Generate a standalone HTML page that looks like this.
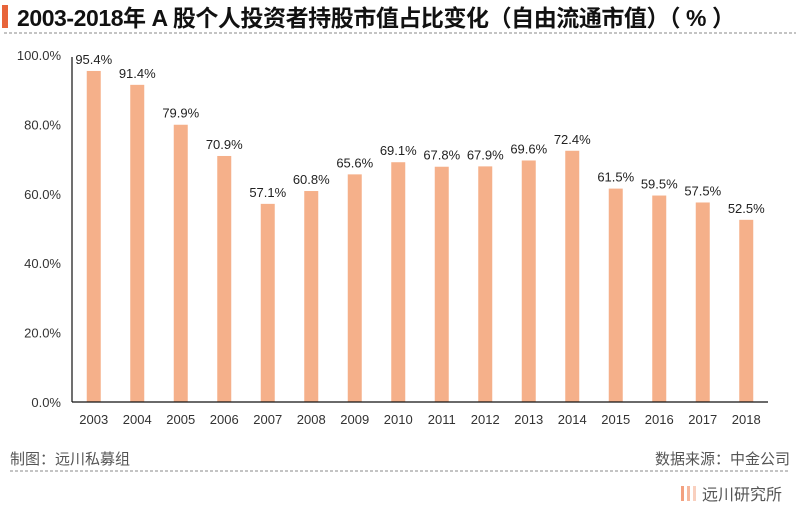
<!DOCTYPE html>
<html><head><meta charset="utf-8"><style>
body{margin:0;background:#fff;width:800px;height:507px;overflow:hidden;font-family:"Liberation Sans","Noto Sans CJK SC",sans-serif;}
</style></head><body>
<svg width="800" height="507" style="position:absolute;left:0;top:0">
<rect x="2" y="5" width="6" height="23" fill="#e8643a"/>
<text x="17" y="26" font-size="23" font-weight="bold" fill="#111" textLength="718" lengthAdjust="spacing" font-family="Liberation Sans, Noto Sans CJK SC, sans-serif">2003-2018年 A 股个人投资者持股市值占比变化（自由流通市值）（ % ）</text>
<line x1="4" y1="33" x2="796" y2="33" stroke="#888" stroke-dasharray="3,2"/>
<g id="plot"></g>
<text x="10" y="464" font-size="15" fill="#555">制图：远川私募组</text>
<text x="790" y="464" font-size="15" fill="#555" text-anchor="end">数据来源：中金公司</text>
<line x1="10" y1="471" x2="790" y2="471" stroke="#888" stroke-dasharray="3,2"/>
<g>
<rect x="681" y="486" width="3" height="15" fill="#f3a07f"/><rect x="687" y="486" width="3" height="15" fill="#f6b89e"/><rect x="693" y="486" width="3" height="15" fill="#f9d0bf"/>
<text x="702" y="500" font-size="16" fill="#555">远川研究所</text></g>
</svg>
<script>
const years=["2003","2004","2005","2006","2007","2008","2009","2010","2011","2012","2013","2014","2015","2016","2017","2018"];
const values=[95.4,91.4,79.9,70.9,57.1,60.8,65.6,69.1,67.8,67.9,69.6,72.4,61.5,59.5,57.5,52.5];
const yTicks=[0,20,40,60,80,100];
const NS="http://www.w3.org/2000/svg";
const g=document.getElementById('plot');
const x0=72,x1=768,y0=402,yTop=55;
const band=(x1-x0)/years.length;
const xc=i=>x0+band*(i+0.5);
const yv=v=>y0-(v/100)*(y0-yTop);
function mk(t,a){const e=document.createElementNS(NS,t);for(const k in a)e.setAttribute(k,a[k]);g.appendChild(e);return e;}
yTicks.forEach(t=>{const e=mk('text',{x:61,y:yv(t)+5,'font-size':13,'text-anchor':'end',fill:'#333'});e.textContent=t.toFixed(1)+'%';

});
values.forEach((v,i)=>{const r=mk('rect',{x:xc(i)-7,y:yv(v),width:14,height:y0-yv(v),fill:'#f5b08a'});


const l=mk('text',{x:xc(i),y:yv(v)-7,'font-size':13,'text-anchor':'middle',fill:'#222'});l.textContent=v.toFixed(1)+'%';


const xl=mk('text',{x:xc(i),y:424,'font-size':13,'text-anchor':'middle',fill:'#333'});xl.textContent=years[i];

});
const ya=mk('line',{x1:x0,y1:57,x2:x0,y2:y0,stroke:'#111','stroke-width':1.2});


const xa=mk('line',{x1:x0,y1:y0,x2:x1,y2:y0,stroke:'#111','stroke-width':1.2});


</script>
</body></html>
